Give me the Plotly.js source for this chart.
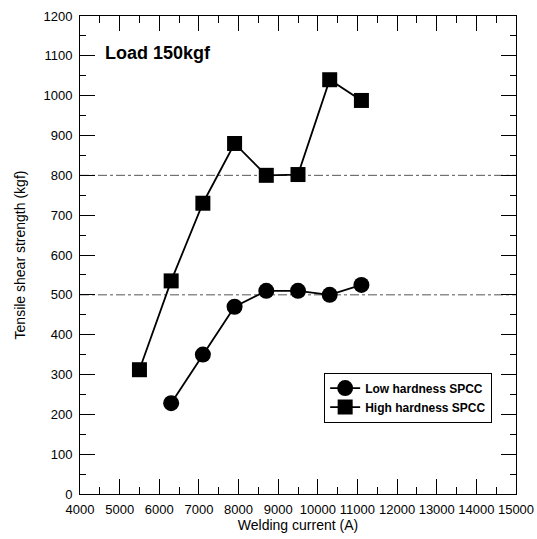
<!DOCTYPE html>
<html>
<head>
<meta charset="utf-8">
<script src="https://cdn.plot.ly/plotly-3.0.1.min.js"></script>
<style>html,body{margin:0;padding:0;background:#fff;}#chart{width:537px;height:539px;}</style>
</head>
<body>
<div id="chart"></div>
<script>
// Data
const lowCurrent = [6300, 7100, 7900, 8700, 9500, 10300, 11100];
const lowStrength = [228, 350, 470, 510, 510, 500, 525];
const highCurrent = [5500, 6300, 7100, 7900, 8700, 9500, 10300, 11100];
const highStrength = [312, 535, 730, 880, 800, 802, 1040, 988];
const seriesNames = ['Low hardness SPCC', 'High hardness SPCC'];
const refLevels = [500, 800];
const loadLabel = 'Load 150kgf';

const font = 'Arial, "Liberation Sans", sans-serif';

const traces = [
  {
    x: lowCurrent, y: lowStrength, name: seriesNames[0],
    type: 'scatter', mode: 'lines+markers',
    line: {color: '#000', width: 1.8},
    marker: {symbol: 'circle', size: 16, color: '#000'}
  },
  {
    x: highCurrent, y: highStrength, name: seriesNames[1],
    type: 'scatter', mode: 'lines+markers',
    line: {color: '#000', width: 1.8},
    marker: {symbol: 'square', size: 15, color: '#000'}
  }
];

const shapes = refLevels.map(v => ({
  type: 'line', xref: 'paper', yref: 'y', x0: 0, x1: 1, y0: v, y1: v,
  line: {color: '#555', width: 1, dash: 'dashdot'}, layer: 'below'
}));

const layout = {
  width: 537, height: 539,
  margin: {l: 80, r: 21, t: 16, b: 45},
  paper_bgcolor: '#fff', plot_bgcolor: '#fff',
  font: {family: font, color: '#000', size: 12},
  showlegend: true,
  legend: {
    x: 0.56, y: 0.254, xanchor: 'left', yanchor: 'top',
    bordercolor: '#000', borderwidth: 1, bgcolor: '#fff',
    font: {family: font, size: 12, weight: 'bold', color: '#000'},
    tracegroupgap: 4, itemwidth: 30
  },
  xaxis: {
    range: [4000, 15000], dtick: 1000, tick0: 4000, tickformat: 'd',
    showgrid: false, zeroline: false,
    showline: true, linecolor: '#000', linewidth: 1, mirror: 'ticks',
    ticks: 'inside', ticklen: 15, tickcolor: '#000', tickwidth: 1,
    ticklabelstandoff: 3,
    minor: {dtick: 500, ticks: 'inside', ticklen: 7, tickcolor: '#000', showgrid: false},
    tickfont: {family: font, size: 13, color: '#000'},
    title: {text: 'Welding current (A)', font: {family: font, size: 14, color: '#000'}, standoff: 0}
  },
  yaxis: {
    range: [0, 1200], dtick: 100,
    showgrid: false, zeroline: false,
    showline: true, linecolor: '#000', linewidth: 1, mirror: 'ticks',
    ticks: 'inside', ticklen: 15, tickcolor: '#000', tickwidth: 1,
    ticklabelstandoff: 4,
    minor: {dtick: 50, ticks: 'inside', ticklen: 6, tickcolor: '#000', showgrid: false},
    tickfont: {family: font, size: 13, color: '#000'},
    title: {text: 'Tensile shear strength (kgf)', font: {family: font, size: 14, color: '#000'}, standoff: 14}
  },
  shapes: shapes,
  annotations: [{
    text: loadLabel, xref: 'paper', yref: 'paper', x: 0.052, y: 0.923,
    xanchor: 'left', yanchor: 'middle', showarrow: false,
    font: {family: font, size: 18, weight: 'bold', color: '#000'}
  }]
};

Plotly.newPlot('chart', traces, layout, {displayModeBar: false, staticPlot: true});
</script>
</body>
</html>
